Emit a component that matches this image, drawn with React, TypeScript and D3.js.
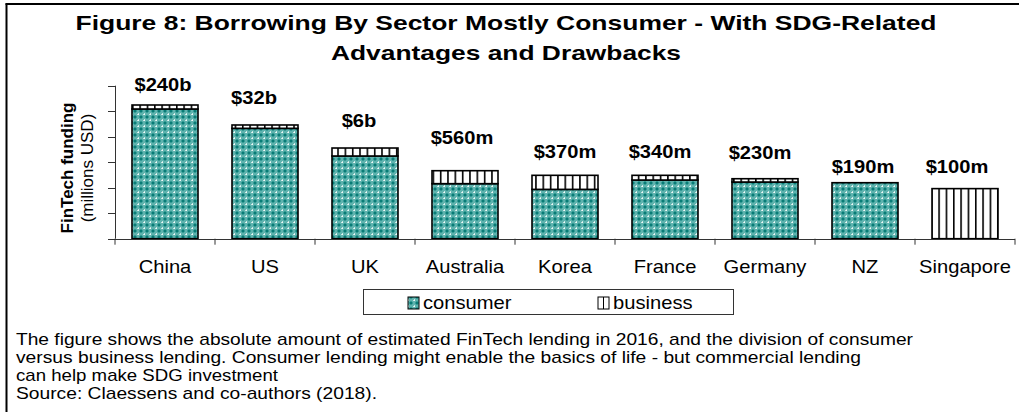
import * as d3 from 'd3';

// Data (millions USD, log axis)
const categories = ['China', 'US', 'UK', 'Australia', 'Korea', 'France', 'Germany', 'NZ', 'Singapore'];
const consumer = [122000, 21300, 1750, 144, 86, 200, 167, 157, 0];
const business = [53000, 7500, 1850, 320, 220, 106, 58, 0, 92];
const totalLabels = ['$240b', '$32b', '$6b', '$560m', '$370m', '$340m', '$230m', '$190m', '$100m'];
const yTicks = [1, 10, 100, 1000, 10000, 100000, 1000000];
const seriesNames = ['consumer', 'business'];

const titleLines = [
	'Figure 8: Borrowing By Sector Mostly Consumer - With SDG-Related',
	'Advantages and Drawbacks',
];
const noteLines = [
	'The figure shows the absolute amount of estimated FinTech lending in 2016, and the division of consumer',
	'versus business lending. Consumer lending might enable the basics of life - but commercial lending',
	'can help make SDG investment',
	'Source: Claessens and co-authors (2018).',
];

// layout: the source chart is stretched sideways, so texts get fixed lengths
const titleWidths = [861, 350];
const noteWidths = [897, 845, 262, 361];
// hand placement of the value labels above each bar (raise, dx)
const labelRaise = [14, 21, 21, 27, 17, 17, 20, 10, 16];
const labelDx = [-2, -11, -6, -3, 0, -5, -5, -2, -8];

const W = 1019;
const H = 412;
const FONT = 'Arial, "Liberation Sans", Helvetica, sans-serif';

function SText({ x, y, sx = 1, children, ...rest }: any) {
	return (
		<text transform={`translate(${x},${y}) scale(${sx},1)`} fontFamily={FONT} {...rest}>
			{children}
		</text>
	);
}

export default function App() {
	const x = d3
		.scaleBand<string>()
		.domain(categories)
		.range([115, 1015])
		.paddingInner(0.34)
		.paddingOuter(0.17);
	const y = d3.scaleLog().domain([1, 1e6]).range([238.7, 85.7]);

	const rows = categories.map((c, i) => ({ cat: c, consumer: consumer[i], business: business[i] }));
	const stacked = d3.stack<(typeof rows)[number]>().keys(seriesNames)(rows as any);

	const step = x.step();
	const gap = (step - x.bandwidth()) / 2;
	const xTicks = categories
		.map((c) => x(c)! - gap)
		.concat([x(categories[categories.length - 1])! + x.bandwidth() + gap]);
	const y0 = y(1);

	return (
		<div style={{ position: 'fixed', left: 0, top: 0 }}>
			<svg width={W} height={H} style={{ display: 'block', background: '#fff' }}>
				<defs>
					<pattern id="pConsumer" width="6" height="6" patternUnits="userSpaceOnUse">
						<rect width="6" height="6" fill="#5fb3ae" />
						<path d="M3 1 L5 3 L3 5 L1 3 Z" fill="#0b827c" />
						<rect x="2.5" y="2.5" width="1" height="1" fill="#006a65" />
						<rect x="0" y="0" width="1" height="1" fill="#f2faf9" />
						<rect x="5" y="0" width="1" height="1" fill="#c9e8e5" />
						<rect x="0" y="5" width="1" height="1" fill="#c9e8e5" />
					</pattern>
					<pattern id="pBusiness" width="7.33" height="10" patternUnits="userSpaceOnUse" x="132">
						<rect width="7.33" height="10" fill="#fff" />
						<rect x="0" width="1.6" height="10" fill="#000" />
					</pattern>
				</defs>

				{/* frame */}
				<line x1={6.5} y1={3.5} x2={6.5} y2={H} stroke="#000" strokeWidth={2} />
				<line x1={5.5} y1={4} x2={W} y2={4} stroke="#000" strokeWidth={2} />

				{/* title */}
				{titleLines.map((t, i) => (
					<text
						key={t}
						x={506 - titleWidths[i] / 2}
						y={30 + i * 30}
						textLength={titleWidths[i]}
						lengthAdjust="spacingAndGlyphs"
						fontFamily={FONT}
						fontWeight="bold"
						fontSize={21}
						fill="#000"
					>
						{t}
					</text>
				))}

				{/* y axis */}
				<line x1={115.5} y1={y(1e6)} x2={115.5} y2={y0} stroke="#333" strokeWidth={1} />
				{yTicks.map((t) => (
					<line
						key={t}
						x1={108}
						x2={115.5}
						y1={Math.round(y(t)) + 0.5}
						y2={Math.round(y(t)) + 0.5}
						stroke="#333"
					/>
				))}
				<text
					transform={`translate(73,168) rotate(-90)`}
					textAnchor="middle"
					fontFamily={FONT}
					fontWeight="bold"
					fontSize={17}
				>
					FinTech funding
				</text>
				<text transform={`translate(93,168) rotate(-90)`} textAnchor="middle" fontFamily={FONT} fontSize={17}>
					(millions USD)
				</text>

				{/* bars */}
				{stacked.map((s) => (
					<g key={s.key} fill={s.key === 'consumer' ? 'url(#pConsumer)' : 'url(#pBusiness)'}>
						{s.map((d, i) =>
							d[1] - d[0] > 0 ? (
								<rect
									key={i}
									x={x(categories[i])}
									y={y(d[1])}
									width={x.bandwidth()}
									height={y(Math.max(d[0], 1)) - y(d[1])}
									stroke="#000"
									strokeWidth={1.6}
								/>
							) : null
						)}
					</g>
				))}

				{/* x axis */}
				<line x1={108} y1={Math.round(y0) + 0.5} x2={1015} y2={Math.round(y0) + 0.5} stroke="#333" />
				{xTicks.map((t, i) => (
					<line key={i} x1={t} x2={t} y1={y0} y2={y0 + 6} stroke="#333" />
				))}
				{categories.map((c) => (
					<SText key={c} x={x(c)! + x.bandwidth() / 2} y={273} sx={1.12} textAnchor="middle" fontSize={18}>
						{c}
					</SText>
				))}

				{/* value labels */}
				{categories.map((c, i) => (
					<SText
						key={c}
						x={x(c)! + x.bandwidth() / 2 + labelDx[i]}
						y={y(consumer[i] + business[i]) - labelRaise[i]}
						sx={1.15}
						textAnchor="middle"
						fontWeight="bold"
						fontSize={17.5}
					>
						{totalLabels[i]}
					</SText>
				))}

				{/* legend */}
				<rect x={363.5} y={289.5} width={370} height={25} fill="#fff" stroke="#333" />
				<rect x={408} y={297} width={11} height={12} fill="url(#pConsumer)" stroke="#000" strokeWidth={1} />
				<SText x={423} y={309} sx={1.12} fontSize={18}>
					{seriesNames[0]}
				</SText>
				<rect x={598} y={297} width={11} height={12} fill="#fff" stroke="#000" strokeWidth={1} />
				<line x1={603.5} x2={603.5} y1={297} y2={309} stroke="#000" />
				<SText x={613} y={309} sx={1.12} fontSize={18}>
					{seriesNames[1]}
				</SText>

				{/* note */}
				{noteLines.map((t, i) => (
					<text
						key={i}
						x={16}
						y={345 + i * 18}
						textLength={noteWidths[i]}
						lengthAdjust="spacingAndGlyphs"
						fontFamily={FONT}
						fontSize={17}
					>
						{t}
					</text>
				))}
			</svg>
		</div>
	);
}
